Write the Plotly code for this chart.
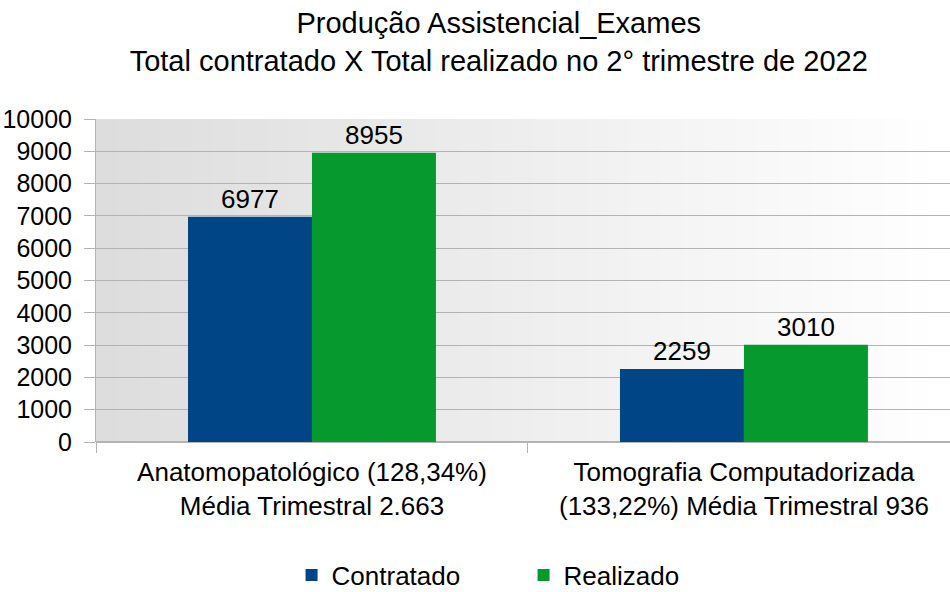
import plotly.graph_objects as go

categories = ["Anatomopatológico (128,34%)<br>Média Trimestral 2.663",
              "Tomografia Computadorizada<br>(133,22%) Média Trimestral 936"]
contratado = [6977, 2259]
realizado = [8955, 3010]
y_ticks = list(range(0, 10001, 1000))
y_tick_text = [str(v) for v in y_ticks]

FONT = "Liberation Sans, Arial, sans-serif"
GRID = "#b3b3b3"

fig = go.Figure()
fig.add_trace(go.Bar(name="Contratado", x=categories, y=contratado,
                     marker=dict(color="#004586", line=dict(width=0)),
                     text=[str(v) for v in contratado], textposition="outside",
                     textfont=dict(size=26, color="black"), cliponaxis=False))
fig.add_trace(go.Bar(name="Realizado", x=categories, y=realizado,
                     marker=dict(color="#069a2e", line=dict(width=0)),
                     text=[str(v) for v in realizado], textposition="outside",
                     textfont=dict(size=26, color="black"), cliponaxis=False))

# horizontal gradient background
n = 80
shapes = []
for i in range(n):
    t = i / (n - 1)
    g = int(round(0xdd + (0xff - 0xdd) * t))
    shapes.append(dict(type="rect", xref="paper", yref="paper",
                       x0=i / n, x1=(i + 1) / n + 0.002, y0=0, y1=1,
                       fillcolor=f"rgb({g},{g},{g})", line=dict(width=0),
                       layer="below"))

fig.update_layout(
    width=950, height=592,
    margin=dict(l=96, r=0, t=119, b=150, autoexpand=False),
    paper_bgcolor="white", plot_bgcolor="white",
    font=dict(family=FONT, size=26, color="black"),
    title=dict(text="Produção Assistencial_Exames<br>Total contratado X Total realizado no 2° trimestre de 2022",
               x=0.525, xanchor="center", xref="container",
               y=1 - 33 / 592, yanchor="top", yref="container",
               font=dict(size=29, family=FONT)),
    barmode="group", bargap=0.426, bargroupgap=0,
    shapes=shapes,
    showlegend=True,
    legend=dict(orientation="h", x=0.229, xanchor="left", y=-0.412, yanchor="middle",
                font=dict(size=26), entrywidth=187, traceorder="normal"),
)
fig.update_xaxes(type="category", range=[-0.5, 1.477], showgrid=False, automargin=False,
                 ticks="outside", tickson="boundaries", ticklen=10, tickcolor=GRID,
                 showline=False, zeroline=False, tickfont=dict(size=26),
                 ticklabelstandoff=12)
fig.update_yaxes(range=[0, 10000], tickvals=y_ticks, ticktext=y_tick_text,
                 showgrid=True, gridcolor=GRID, automargin=False,
                 gridwidth=1, ticks="outside", ticklen=11, tickcolor=GRID,
                 showline=True, linecolor=GRID, linewidth=1, zeroline=True,
                 zerolinecolor=GRID, ticklabelstandoff=7, tickfont=dict(size=25))

fig.write_html("out.html", config={"displayModeBar": False},
               post_script="document.body.style.margin='0';document.body.style.overflow='hidden';")
